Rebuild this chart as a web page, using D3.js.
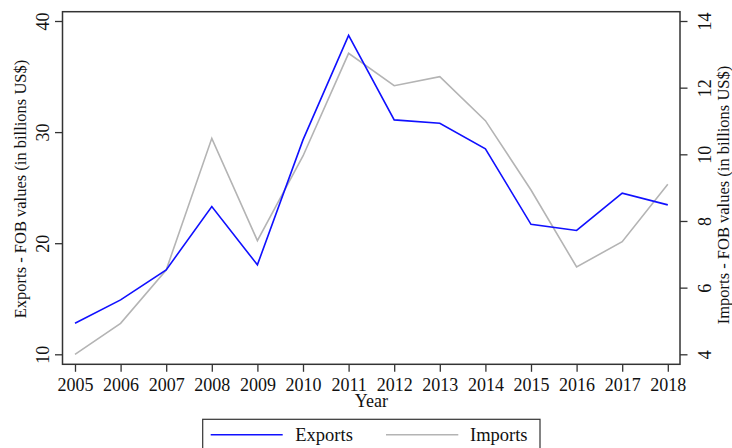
<!DOCTYPE html>
<html><head><meta charset="utf-8">
<script src="https://cdn.jsdelivr.net/npm/d3@7"></script>
<style>body{margin:0;background:#fff}svg{display:block}text{font-family:"Liberation Serif","Times New Roman",serif;fill:#111}</style>
</head><body><svg id="c" width="732" height="448"></svg>
<script>
const years = [2005,2006,2007,2008,2009,2010,2011,2012,2013,2014,2015,2016,2017,2018];
const exportsVals = [12.8,14.9,17.6,23.3,18.05,29.3,38.7,31.1,30.8,28.5,21.7,21.15,24.5,23.45];
const importsVals = [4.0,4.93,6.53,10.48,7.41,9.95,13.03,12.06,12.33,11.01,8.93,6.62,7.38,9.1];
const leftTicks = [10,20,30,40];
const rightTicks = [4,6,8,10,12,14];
const seriesNames = ["Exports","Imports"];

const svg = d3.select("#c");
const frame = {l:62.5, r:680, t:11.7, b:364.3};
const x = d3.scaleLinear().domain([2005,2018]).range([75,667.8]);
const yL = d3.scaleLinear().domain([10,40]).range([354.3,21]);
const yR = d3.scaleLinear().domain([4,14]).range([354.3,21]);

// frame
svg.append("rect").attr("x",frame.l).attr("y",frame.t).attr("width",frame.r-frame.l).attr("height",frame.b-frame.t)
  .attr("fill","none").attr("stroke","#333").attr("stroke-width",1.5);

// bottom axis
const gx = svg.append("g").attr("transform",`translate(0,${frame.b})`)
  .call(d3.axisBottom(x).tickValues(years).tickFormat(d3.format("d")).tickSize(7.5).tickPadding(6));
gx.select(".domain").remove();
gx.selectAll("line").attr("stroke","#333").attr("stroke-width",1.3);
gx.selectAll("text").attr("font-size",18).attr("fill","#111");

// left axis
const gl = svg.append("g").attr("transform",`translate(${frame.l},0)`)
  .call(d3.axisLeft(yL).tickValues(leftTicks).tickSize(7.5).tickFormat(d3.format("d")));
gl.select(".domain").remove();
gl.selectAll("line").attr("stroke","#333").attr("stroke-width",1.3);
gl.selectAll("text").attr("font-size",18).attr("fill","#111")
  .attr("x",0).attr("dy",null).attr("text-anchor","middle")
  .attr("transform",d=>`translate(-14,0) rotate(-90)`).attr("y",0).attr("dy","0");
gl.selectAll(".tick text").each(function(){d3.select(this).attr("transform","translate(-14,0) rotate(-90)");});

// right axis
const gr = svg.append("g").attr("transform",`translate(${frame.r},0)`)
  .call(d3.axisRight(yR).tickValues(rightTicks).tickSize(7.5).tickFormat(d3.format("d")));
gr.select(".domain").remove();
gr.selectAll("line").attr("stroke","#333").attr("stroke-width",1.3);
gr.selectAll("text").attr("font-size",18).attr("fill","#111")
  .attr("x",0).attr("y",0).attr("dy","0").attr("text-anchor","middle")
  .attr("transform","translate(31,0) rotate(-90)");

// axis titles
svg.append("text").attr("font-size",16.5).attr("text-anchor","middle")
  .attr("transform",`translate(26,${(60+318)/2}) rotate(-90)`).text("Exports - FOB values (in billions US$)");
svg.append("text").attr("font-size",16.5).attr("text-anchor","middle")
  .attr("transform",`translate(729,${(62+328)/2}) rotate(-90)`).text("Imports - FOB values (in billions US$)");
svg.append("text").attr("font-size",18).attr("text-anchor","middle")
  .attr("x",(x(2005)+x(2018))/2).attr("y",407).text("Year");

// lines
const lineL = d3.line().x((d,i)=>x(years[i])).y(d=>yL(d));
const lineR = d3.line().x((d,i)=>x(years[i])).y(d=>yR(d));
svg.append("path").datum(importsVals).attr("d",lineR).attr("fill","none").attr("stroke","#b4b4b4").attr("stroke-width",1.6);
svg.append("path").datum(exportsVals).attr("d",lineL).attr("fill","none").attr("stroke","#1010ff").attr("stroke-width",1.6);

// legend
const lg = svg.append("g");
lg.append("rect").attr("x",202.7).attr("y",419.3).attr("width",540-202.7).attr("height",40)
  .attr("fill","#fff").attr("stroke","#333").attr("stroke-width",1.2);
const legItems = [{n:seriesNames[0],c:"#1010ff",x1:210.7,x2:282.7,tx:295.3},{n:seriesNames[1],c:"#b4b4b4",x1:386,x2:458.3,tx:470}];
legItems.forEach(it=>{
  lg.append("line").attr("x1",it.x1).attr("x2",it.x2).attr("y1",434.7).attr("y2",434.7).attr("stroke",it.c).attr("stroke-width",1.6);
  lg.append("text").attr("x",it.tx).attr("y",441).attr("font-size",18.5).text(it.n);
});
</script></body></html>
